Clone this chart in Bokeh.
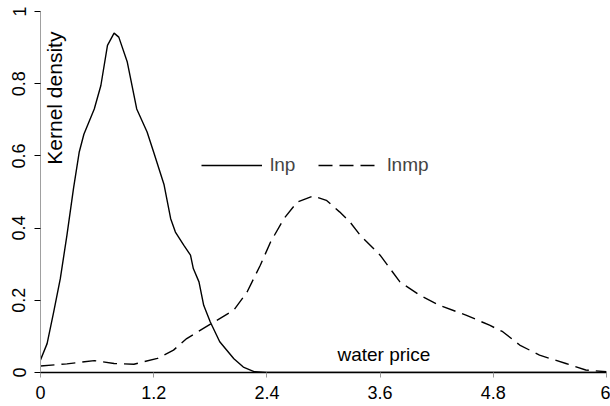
import math
from bokeh.plotting import figure
from bokeh.models import Range1d, FixedTicker, Legend, LegendItem
from bokeh.core.properties import value
from bokeh.embed import file_html
from bokeh.resources import INLINE

# ---- data ----
price_lnp = [0.0, 0.07, 0.14, 0.21, 0.28, 0.35, 0.41, 0.46, 0.57, 0.64, 0.71, 0.78,
             0.83, 0.92, 1.02, 1.13, 1.20, 1.31, 1.38, 1.43, 1.52, 1.59, 1.62, 1.68,
             1.73, 1.80, 1.90, 2.05, 2.15, 2.27, 2.4, 3.0, 4.0, 5.0, 6.0]
dens_lnp = [0.035, 0.08, 0.168, 0.26, 0.38, 0.51, 0.61, 0.66, 0.73, 0.795, 0.906, 0.94,
            0.929, 0.86, 0.73, 0.666, 0.61, 0.52, 0.426, 0.389, 0.352, 0.325, 0.288, 0.251,
            0.186, 0.14, 0.085, 0.038, 0.015, 0.002, 0.0, 0.0, 0.0, 0.0, 0.0]

price_lnmp = [0.0, 0.28, 0.57, 0.78, 0.99, 1.24, 1.41, 1.55, 1.65, 1.84, 2.05, 2.19,
              2.33, 2.44, 2.58, 2.72, 2.89, 3.03, 3.17, 3.28, 3.39, 3.60, 3.81, 4.02,
              4.23, 4.51, 4.76, 4.90, 5.08, 5.29, 5.57, 5.78, 6.0]
dens_lnmp = [0.018, 0.024, 0.033, 0.025, 0.023, 0.039, 0.062, 0.094, 0.11, 0.14, 0.173, 0.223,
             0.297, 0.362, 0.426, 0.472, 0.489, 0.477, 0.445, 0.417, 0.38, 0.325, 0.251, 0.214,
             0.186, 0.159, 0.131, 0.113, 0.076, 0.048, 0.025, 0.007, 0.002]

x_ticks = [0, 1.2, 2.4, 3.6, 4.8, 6]
x_tick_labels = ["0", "1.2", "2.4", "3.6", "4.8", "6"]
y_ticks = [0, 0.2, 0.4, 0.6, 0.8, 1]
y_tick_labels = ["0", "0.2", "0.4", "0.6", "0.8", "1"]
series_names = ["lnp", "lnmp"]
y_title = "Kernel density"
x_title = "water price"

FONT = "Liberation Sans"

p = figure(width=610, height=406,
           x_range=Range1d(0, 6), y_range=Range1d(0, 1),
           output_backend="svg", toolbar_location=None,
           min_border_left=40, min_border_right=4, min_border_top=11, min_border_bottom=34)
p.outline_line_color = None
p.grid.visible = False
p.background_fill_color = "white"
p.border_fill_color = "white"

r1 = p.line(price_lnp, dens_lnp, line_color="black", line_width=1.4)
r2 = p.line(price_lnmp, dens_lnmp, line_color="black", line_width=1.4, line_dash="14 7")

# x axis
xa = p.xaxis[0]
xa.ticker = FixedTicker(ticks=x_ticks, minor_ticks=[])
xa.major_label_overrides = {t: l for t, l in zip(x_ticks, x_tick_labels)}
xa.axis_line_color = "black"
xa.axis_line_width = 1.5
xa.major_tick_line_color = "#9a9a9a"
xa.major_tick_in = 0
xa.major_tick_out = 5
xa.minor_tick_line_color = None
xa.major_label_standoff = 8
xa.major_label_text_font = FONT
xa.major_label_text_font_size = "18px"
xa.major_label_text_color = "black"

# y axis
ya = p.yaxis[0]
ya.ticker = FixedTicker(ticks=y_ticks, minor_ticks=[])
ya.major_label_overrides = {t: l for t, l in zip(y_ticks, y_tick_labels)}
ya.axis_line_color = "#a0a0a0"
ya.axis_line_width = 1
ya.major_tick_line_color = "black"
ya.major_tick_in = 0
ya.major_tick_out = 6
ya.minor_tick_line_color = None
ya.major_label_orientation = "vertical"
ya.major_label_standoff = 9
ya.major_label_text_font = FONT
ya.major_label_text_font_size = "18px"
ya.major_label_text_color = "black"

# titles inside the plot
p.text(x=[0.152], y=[0.76], text=[y_title], angle=math.pi / 2,
       text_align="center", text_baseline="middle",
       text_font=value(FONT), text_font_size="21px", text_color="black")
p.text(x=[3.64], y=[0.05], text=[x_title],
       text_align="center", text_baseline="middle",
       text_font=value(FONT), text_font_size="19px", text_color="black")

legend = Legend(items=[LegendItem(label=series_names[0], renderers=[r1]),
                       LegendItem(label=series_names[1], renderers=[r2])],
                location=(161, 196), orientation="horizontal",
                glyph_width=61, glyph_height=20, label_standoff=8, spacing=23,
                padding=0, margin=0, border_line_alpha=0, background_fill_alpha=0,
                label_text_font=FONT, label_text_font_size="19px")
p.add_layout(legend)

open("out.html", "w").write(file_html(p, INLINE))
